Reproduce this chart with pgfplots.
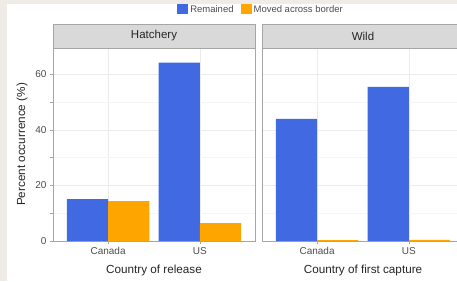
\documentclass[border=0pt]{standalone}
\usepackage{pgfplots}
\pgfplotsset{compat=1.18}
\usepackage{fontspec}
\setmainfont{Liberation Sans}
\definecolor{rblue}{HTML}{4169E1}
\definecolor{orng}{HTML}{FFA500}
\definecolor{beige}{HTML}{EFEBE6}
\definecolor{stripg}{HTML}{D9D9D9}
\definecolor{bordg}{HTML}{A6A6A6}
\definecolor{txtg}{HTML}{4D4D4D}
\pgfplotsset{
  panel/.style={
    scale only axis, width=202pt, height=193pt,
    xmin=0.4, xmax=2.6, ymin=0, ymax=69.5,
    xtick={1,2}, xticklabels={Canada,US},
    ytick={0,20,40,60}, minor ytick={10,30,50},
    grid=both,
    major grid style={draw=black!8, line width=0.6pt},
    minor grid style={draw=black!4, line width=0.4pt},
    axis line style={draw=bordg, line width=0.8pt},
    tick align=outside, major tick length=3pt,
    tick style={draw=bordg, line width=0.6pt},
    xtick pos=bottom, ytick pos=left,
    ticklabel style={font=\fontsize{10}{12}\selectfont, text=txtg},
    label style={font=\fontsize{11.7}{14}\selectfont, text=black!85},
    xlabel style={at={(axis description cs:0.5,-0.155)}, anchor=center},
    ybar, bar width=0.45,
    clip=false,
    /pgf/number format/assume math mode=true,
  },
}
\begin{document}
\begin{tikzpicture}[x=1pt,y=1pt]
\path[use as bounding box] (0,0) rectangle (457,281);
\clip (0,0) rectangle (457,281);
\fill[beige] (0,0) rectangle (457,281);
\fill[white] (7,0) rectangle (457,277);

\begin{axis}[panel, at={(53pt,40pt)}, anchor=south west,
  xlabel={Country of release},
  ylabel={Percent occurrence (\%)},
  ylabel style={at={(axis description cs:-0.153,0.5)}, anchor=center},
  legend style={at={(1.03,1.199)}, anchor=center, draw=none, fill=none,
    font=\fontsize{9.5}{11}\selectfont, text=txtg,
    /tikz/every even column/.append style={column sep=5pt}},
  legend columns=2,
  legend image code/.code={\fill[#1] (0pt,-4.5pt) rectangle (11pt,6pt);},
]
\addplot[fill=rblue, draw=none, bar shift=-0.225] coordinates {(1,15.1) (2,64.2)};
\addlegendentry{Remained}
\addplot[fill=orng, draw=none, bar shift=0.225] coordinates {(1,14.4) (2,6.4)};
\addlegendentry{Moved across border}
\draw[fill=stripg, draw=bordg, line width=0.8pt] (rel axis cs:0,1) rectangle (rel axis cs:1,1.1244);
\node[font=\fontsize{11.5}{14}\selectfont, text=black!85] at (rel axis cs:0.5,1.0622) {Hatchery};
\end{axis}

\begin{axis}[panel, at={(262pt,40pt)}, anchor=south west,
  xlabel={Country of first capture},
  yticklabels={}, ytick style={draw=none},
]
\addplot[fill=rblue, draw=none, bar shift=-0.225] coordinates {(1,44.0) (2,55.5)};
\addplot[fill=orng, draw=none, bar shift=0.225] coordinates {(1,0.3) (2,0.4)};
\draw[fill=stripg, draw=bordg, line width=0.8pt] (rel axis cs:0,1) rectangle (rel axis cs:1,1.1244);
\node[font=\fontsize{11.5}{14}\selectfont, text=black!85] at (rel axis cs:0.5,1.0622) {Wild};
\end{axis}
\end{tikzpicture}
\end{document}
